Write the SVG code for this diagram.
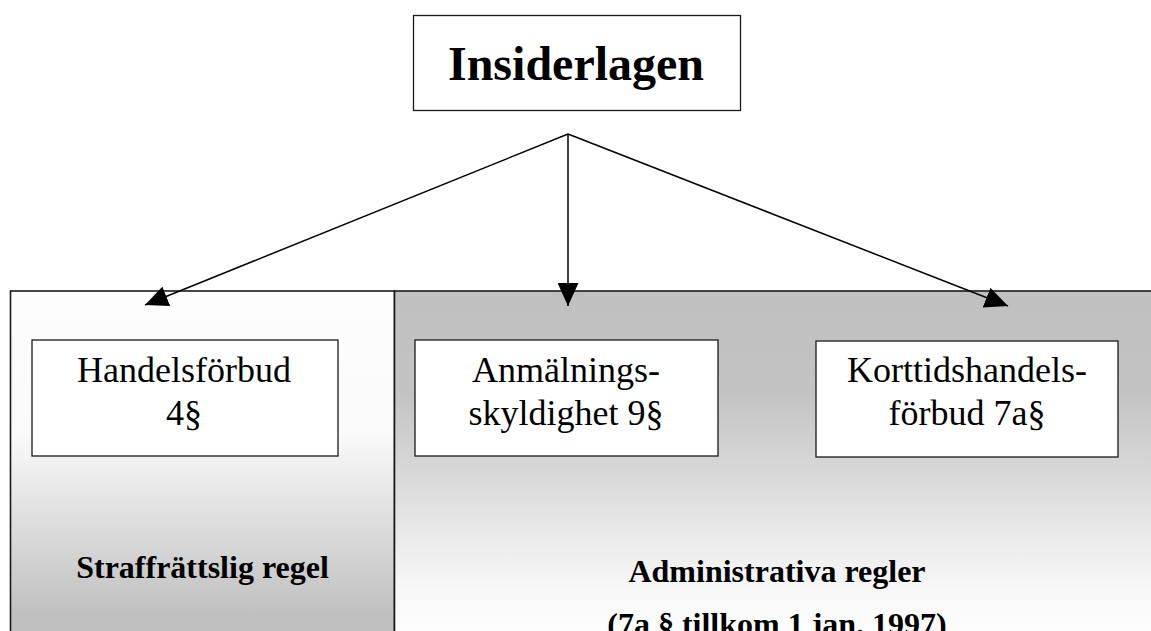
<svg xmlns="http://www.w3.org/2000/svg" width="1151" height="631" viewBox="0 0 1151 631">
  <style>
    .box { fill: #ffffff; stroke: #1a1a1a; stroke-width: 1.3; }
    .panel { stroke: #1a1a1a; stroke-width: 1.6; }
    .label { font-family: "Liberation Serif", "Times New Roman", serif; font-size: 36px; fill: #000; text-anchor: middle; }
    .title { font-family: "Liberation Serif", "Times New Roman", serif; font-size: 48px; font-weight: bold; fill: #000; text-anchor: middle; }
    .caption { font-family: "Liberation Serif", "Times New Roman", serif; font-size: 32px; font-weight: bold; fill: #000; text-anchor: middle; }
    .conn { stroke: #000; stroke-width: 1.5; fill: none; marker-end: url(#head); }
  </style>
  <defs>
    <marker id="head" markerUnits="userSpaceOnUse" markerWidth="23" markerHeight="21" refX="23" refY="10.5" orient="auto" viewBox="0 0 23 21">
      <path d="M0,0 L23,10.5 L0,21 Z" fill="#000"/>
    </marker>
    <linearGradient id="shadeCriminal" gradientUnits="userSpaceOnUse" x1="0" y1="291" x2="0" y2="631">
      <stop offset="0" stop-color="#fdfdfd"/>
      <stop offset="0.42" stop-color="#fafafa"/>
      <stop offset="0.95" stop-color="#c0c0c0"/>
      <stop offset="1" stop-color="#c0c0c0"/>
    </linearGradient>
    <linearGradient id="shadeAdmin" gradientUnits="userSpaceOnUse" x1="0" y1="291" x2="0" y2="631">
      <stop offset="0" stop-color="#c0c0c0"/>
      <stop offset="0.3" stop-color="#c3c3c3"/>
      <stop offset="0.88" stop-color="#f8f8f8"/>
      <stop offset="1" stop-color="#fdfdfd"/>
    </linearGradient>
  </defs>

  <!-- background panels -->
  <g id="panel-criminal">
    <rect class="panel" x="10.5" y="291" width="384" height="360" fill="url(#shadeCriminal)"/>
    <text class="caption" x="202.5" y="578">Straffrättslig regel</text>
  </g>
  <g id="panel-admin">
    <rect class="panel" x="394.5" y="291" width="770" height="360" fill="url(#shadeAdmin)"/>
    <text class="caption" x="777" y="582">Administrativa regler</text>
    <text class="caption" x="777" y="635">(7a § tillkom 1 jan. 1997)</text>
  </g>

  <!-- root node -->
  <g id="insiderlagen">
    <rect class="box" x="413.5" y="15.5" width="327" height="95" stroke-width="1.6"/>
    <text class="title" x="576" y="80">Insiderlagen</text>
  </g>

  <!-- rule nodes -->
  <g id="handelsforbud">
    <rect class="box" x="32" y="340" width="306" height="116"/>
    <text class="label" x="184" y="382">Handelsförbud</text>
    <text class="label" x="184" y="425">4§</text>
  </g>
  <g id="anmalningsskyldighet">
    <rect class="box" x="415" y="340" width="303" height="116"/>
    <text class="label" x="566" y="382">Anmälnings-</text>
    <text class="label" x="566" y="425">skyldighet 9§</text>
  </g>
  <g id="korttidshandelsforbud">
    <rect class="box" x="816" y="341" width="302" height="116"/>
    <text class="label" x="967" y="382">Korttidshandels-</text>
    <text class="label" x="967" y="425">förbud 7a§</text>
  </g>

  <!-- connectors -->
  <g id="connectors">
    <line class="conn" x1="568" y1="134" x2="145" y2="305"/>
    <line class="conn" x1="568" y1="134" x2="568" y2="306"/>
    <line class="conn" x1="568" y1="134" x2="1008" y2="306"/>
  </g>
</svg>
